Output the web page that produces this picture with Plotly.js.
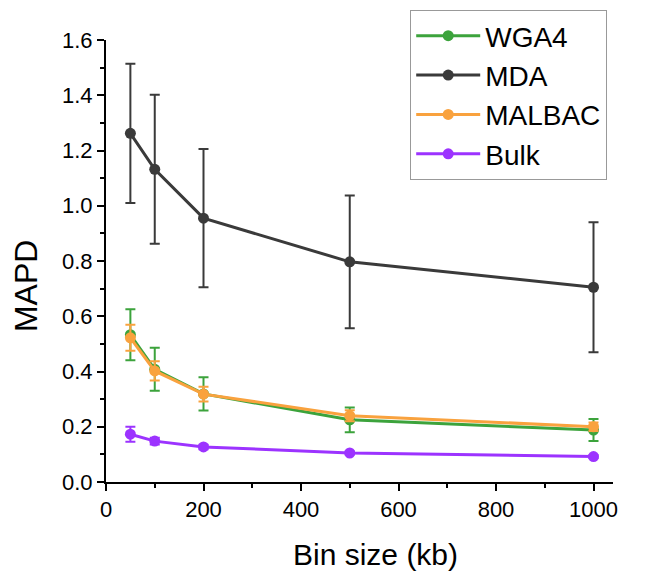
<!DOCTYPE html>
<html>
<head>
<meta charset="utf-8">
<script src="https://cdn.plot.ly/plotly-3.0.1.min.js"></script>
<style>html,body{margin:0;padding:0;background:#fff;}#chart{width:655px;height:573px;}</style>
</head>
<body>
<div id="chart"></div>
<script>
var binSizes = [50, 100, 200, 500, 1000];

var wga4 = [0.533, 0.408, 0.319, 0.225, 0.188];
var wga4Err = [0.092, 0.078, 0.060, 0.045, 0.040];

var mda = [1.262, 1.132, 0.955, 0.797, 0.705];
var mdaErr = [0.252, 0.270, 0.250, 0.240, 0.235];

var malbac = [0.522, 0.402, 0.318, 0.240, 0.200];
var malbacErr = [0.047, 0.035, 0.027, 0.020, 0.015];

var bulk = [0.173, 0.148, 0.127, 0.105, 0.092];
var bulkErr = [0.027, 0.012, 0.008, 0.005, 0.005];

var names = ['WGA4', 'MDA', 'MALBAC', 'Bulk'];
var xTitle = 'Bin size (kb)';
var yTitle = 'MAPD';
var colors = ['#3ca33c', '#3a3a3a', '#f9a23e', '#9c33ff'];
var ys = [wga4, mda, malbac, bulk];
var errs = [wga4Err, mdaErr, malbacErr, bulkErr];

var traces = names.map(function(n, i) {
  return {
    type: 'scatter',
    mode: 'lines+markers',
    name: n,
    x: binSizes,
    y: ys[i],
    line: {color: colors[i], width: 3},
    marker: {color: colors[i], size: 11, symbol: 'circle'},
    error_y: {type: 'data', array: errs[i], visible: true, color: colors[i], thickness: 2, width: 5},
    cliponaxis: false
  };
});

var FONT = '"Liberation Sans", Arial, sans-serif';

var layout = {
  width: 655,
  height: 573,
  margin: {l: 106, r: 42, t: 40, b: 91, autoexpand: false},
  paper_bgcolor: '#fff',
  plot_bgcolor: '#fff',
  font: {family: FONT, color: '#000'},
  showlegend: true,
  legend: {
    x: 0.60, y: 1.068, xanchor: 'left', yanchor: 'top',
    bordercolor: '#999', borderwidth: 1, bgcolor: '#fff',
    itemwidth: 64,
    font: {family: FONT, size: 28, color: '#000'}
  },
  xaxis: {
    range: [0, 1040],
    tickvals: [0, 200, 400, 600, 800, 1000],
    showgrid: false, zeroline: false,
    showline: true, linecolor: '#000', linewidth: 2,
    ticks: 'outside', ticklen: 7, tickwidth: 2, tickcolor: '#000',
    minor: {dtick: 100, ticks: 'outside', ticklen: 4, tickwidth: 2, tickcolor: '#000'},
    tickfont: {family: FONT, size: 22, color: '#000'}
  },
  yaxis: {
    range: [0, 1.6],
    tickvals: [0, 0.2, 0.4, 0.6, 0.8, 1.0, 1.2, 1.4, 1.6],
    tickformat: '.1f',
    showgrid: false, zeroline: false,
    showline: true, linecolor: '#000', linewidth: 2,
    ticks: 'outside', ticklen: 7, tickwidth: 2, tickcolor: '#000',
    minor: {dtick: 0.1, ticks: 'outside', ticklen: 4, tickwidth: 2, tickcolor: '#000'},
    tickfont: {family: FONT, size: 22, color: '#000'}
  },
  annotations: [
    {text: xTitle, xref: 'paper', yref: 'paper', x: 0.5325, y: -0.165,
     xanchor: 'center', yanchor: 'middle', showarrow: false,
     font: {family: FONT, size: 30, color: '#000'}},
    {text: yTitle, xref: 'paper', yref: 'paper', x: -0.158, y: 0.443,
     xanchor: 'center', yanchor: 'middle', showarrow: false, textangle: -90,
     font: {family: FONT, size: 32, color: '#000'}}
  ]
};

Plotly.newPlot('chart', traces, layout, {displayModeBar: false, staticPlot: true});
</script>
</body>
</html>
